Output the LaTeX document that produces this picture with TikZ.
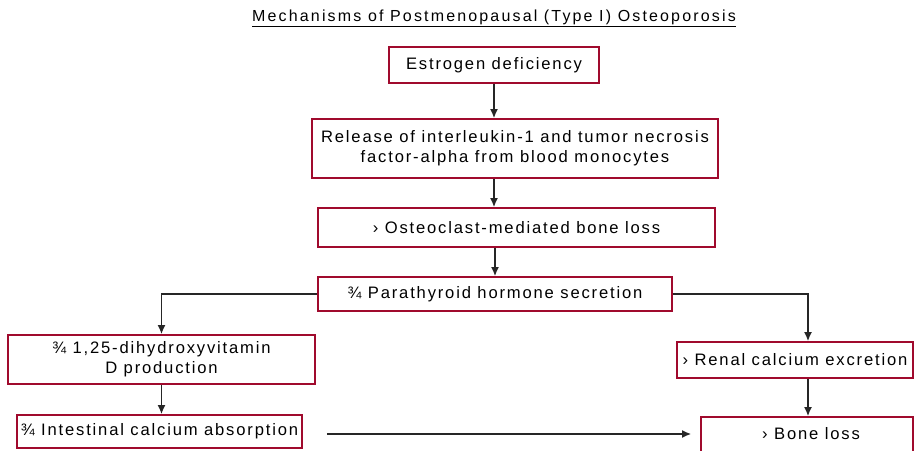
\documentclass[tikz,border=0pt]{standalone}
\usepackage{fontspec}
\setmainfont{Liberation Sans}[LetterSpace=11]
\usetikzlibrary{arrows.meta,calc}
\definecolor{boxred}{RGB}{160,10,45}
\tikzset{
  box/.style={draw=boxred, line width=1.8pt, fill=white, inner sep=0pt, align=center, font=\fontsize{16.6}{20}\selectfont},
  arr/.style={draw=black!85, line width=1.4pt, -{Latex[length=9pt,width=8pt]}},
}
\begin{document}
\begin{tikzpicture}[x=1pt,y=-1pt]
\useasboundingbox (0,0) rectangle (917,450);
\begin{scope}
\clip (0,0) rectangle (917,450);
\node[font=\fontsize{16}{18}\selectfont\addfontfeature{LetterSpace=13.5}] (title) at (494,18) {\underline{Mechanisms of Postmenopausal (Type I) Osteoporosis}};
\node[box, minimum width=210, minimum height=36] (b1) at (494,65) {Estrogen deficiency};
\node[box, minimum width=406, minimum height=59] (b2) at (515,148.5) {Release of interleukin-1 and tumor necrosis\\factor-alpha from blood monocytes};
\node[box, minimum width=397, minimum height=39] (b3) at (516.5,227.5) {› Osteoclast-mediated bone loss};
\node[box, minimum width=354, minimum height=34] (b4) at (495,294) {¾ Parathyroid hormone secretion};
\node[box, minimum width=307, minimum height=49] (b5) at (161.5,359.5) {¾ 1,25-dihydroxyvitamin\\D production};
\node[box, minimum width=285, minimum height=33] (b7) at (159.5,431.5) {¾ Intestinal calcium absorption};
\node[box, minimum width=236, minimum height=36] (b6) at (795,360) {› Renal calcium excretion};
\node[box, minimum width=212, minimum height=46] (b8) at (807,440) {};
\node[font=\fontsize{16.6}{20}\selectfont] (b8t) at (811,434) {› Bone loss};
\coordinate (rc) at (808,294);
\draw[arr] (b1.south) -- (b1.south |- b2.north);
\draw[arr] (b1.south |- b2.south) -- (b1.south |- b3.north);
\draw[arr] (b4.north |- b3.south) -- (b4.north);
\draw[arr] (b4.west) -- (b5.north |- b4.west) -- (b5.north);
\draw[arr] (b4.east) -- (rc) -- (rc |- b6.north);
\draw[arr] (rc |- b6.south) -- (rc |- b8.north);
\draw[arr] (b5.south) -- (b5.south |- b7.north);
\coordinate (hs) at ($(b7.east)+(24,2.5)$);
\draw[arr] (hs) -- ([xshift=-9]b8.west |- hs);
\end{scope}
\end{tikzpicture}
\end{document}
